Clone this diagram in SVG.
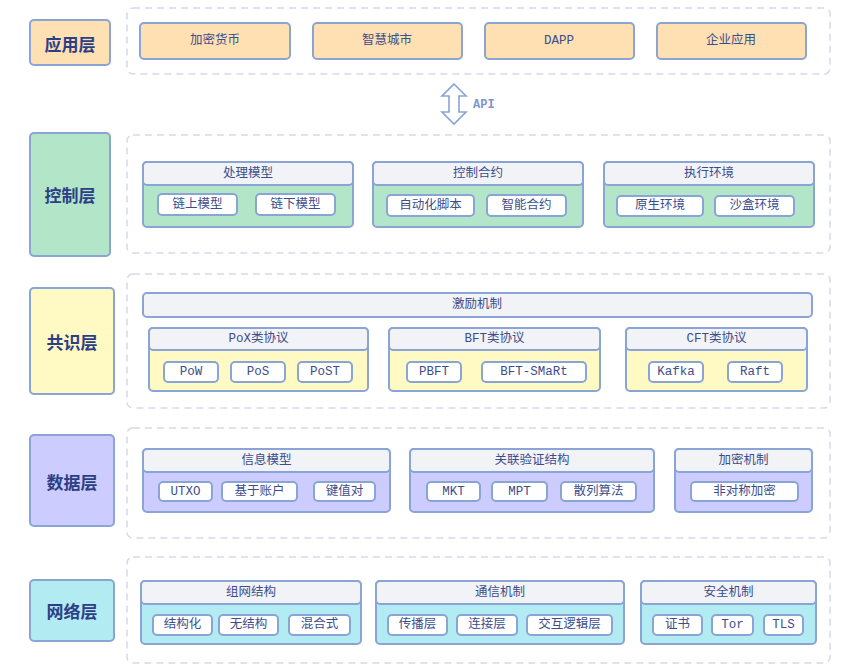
<svg xmlns="http://www.w3.org/2000/svg" width="867" height="668" viewBox="0 0 867 668">
<style>
.bg{fill:#ffffff}
.cont{fill:none;stroke:#d3daea;stroke-width:1.5;stroke-dasharray:7 5}
.lbl{stroke:#8aa4d6;stroke-width:2}
.ltxt{font-family:"Noto Sans CJK SC","Noto Sans",sans-serif;font-size:17px;font-weight:bold;fill:#2c3f86;text-anchor:middle;dominant-baseline:central}
.box{stroke:#8aa4d6;stroke-width:2}
.hdr{fill:#f2f3f7;stroke:#8aa4d6;stroke-width:2}
.item{fill:#ffffff;stroke:#8aa4d6;stroke-width:2}
.t{font-family:"Liberation Mono","Noto Sans CJK SC",monospace;font-size:12.5px;fill:#3b4d8c;text-anchor:middle;dominant-baseline:central}
.api{font-family:"Liberation Mono","Noto Sans CJK SC",monospace;font-size:12px;font-weight:bold;fill:#7d95cc;dominant-baseline:central}
.app{fill:#ffe0b2}.ctl{fill:#b3e6c8}.cns{fill:#fff9c4}.dat{fill:#ccccff}.net{fill:#b2ebf2}
</style>
<rect class="bg" x="0" y="0" width="867" height="668"/>

<!-- Application layer -->
<g id="app-layer">
<rect class="cont" x="127" y="8" width="703" height="66" rx="6"/>
<rect class="lbl app" x="30" y="20" width="80" height="45" rx="4"/>
<text class="ltxt" x="70" y="43">应用层</text>
</g>
<g id="app-crypto"><rect class="box app" x="140" y="23" width="150" height="36" rx="4"/><text class="t" x="215" y="41">加密货币</text></g>
<g id="app-city"><rect class="box app" x="313" y="23" width="149" height="36" rx="4"/><text class="t" x="387" y="41">智慧城市</text></g>
<g id="app-dapp"><rect class="box app" x="485" y="23" width="149" height="36" rx="4"/><text class="t" x="559" y="41">DAPP</text></g>
<g id="app-ent"><rect class="box app" x="657" y="23" width="149" height="36" rx="4"/><text class="t" x="731" y="41">企业应用</text></g>

<!-- Connectors -->
<g id="connectors">
<polygon points="454,84 466,96 459,96 459,112 466,112 454,124 442,112 449,112 449,96 442,96" fill="#ffffff" stroke="#8aa4d6" stroke-width="1.6" stroke-linejoin="miter"/>
<text class="api" x="473" y="105">API</text>
</g>

<!-- Control layer -->
<g id="ctl-layer">
<rect class="cont" x="127" y="135" width="703" height="118" rx="6"/>
<rect class="lbl ctl" x="30" y="133" width="80" height="123" rx="4"/>
<text class="ltxt" x="70" y="194">控制层</text>
</g>
<g id="ctl-proc">
<rect class="box ctl" x="143" y="162" width="210" height="65" rx="4"/>
<rect class="hdr" x="143" y="162" width="210" height="23" rx="4"/>
<text class="t" x="248" y="174">处理模型</text>
<rect class="item" x="158" y="194" width="79" height="21" rx="4"/><text class="t" x="197.5" y="205">链上模型</text>
<rect class="item" x="256" y="194" width="79" height="21" rx="4"/><text class="t" x="295.5" y="205">链下模型</text>
</g>
<g id="ctl-contract">
<rect class="box ctl" x="373" y="162" width="210" height="65" rx="4"/>
<rect class="hdr" x="373" y="162" width="210" height="23" rx="4"/>
<text class="t" x="478" y="174">控制合约</text>
<rect class="item" x="387" y="195" width="87" height="21" rx="4"/><text class="t" x="430.5" y="206">自动化脚本</text>
<rect class="item" x="487" y="195" width="79" height="21" rx="4"/><text class="t" x="526.5" y="206">智能合约</text>
</g>
<g id="ctl-env">
<rect class="box ctl" x="604" y="162" width="210" height="65" rx="4"/>
<rect class="hdr" x="604" y="162" width="210" height="23" rx="4"/>
<text class="t" x="709" y="174">执行环境</text>
<rect class="item" x="617" y="196" width="86" height="20" rx="4"/><text class="t" x="660" y="206">原生环境</text>
<rect class="item" x="715" y="196" width="79" height="20" rx="4"/><text class="t" x="754.5" y="206">沙盒环境</text>
</g>

<!-- Consensus layer -->
<g id="cns-layer">
<rect class="cont" x="127" y="274" width="703" height="134" rx="6"/>
<rect class="lbl cns" x="30" y="288" width="84" height="106" rx="4"/>
<text class="ltxt" x="72" y="341">共识层</text>
</g>
<g id="cns-incentive">
<rect class="hdr" x="143" y="293" width="669" height="24" rx="4"/>
<text class="t" x="477" y="305">激励机制</text>
</g>
<g id="cns-pox">
<rect class="box cns" x="149" y="328" width="219" height="63" rx="4"/>
<rect class="hdr" x="149" y="328" width="219" height="22" rx="4"/>
<text class="t" x="258.5" y="339">PoX类协议</text>
<rect class="item" x="164" y="362" width="54" height="20" rx="4"/><text class="t" x="191" y="372">PoW</text>
<rect class="item" x="231" y="362" width="54" height="20" rx="4"/><text class="t" x="258" y="372">PoS</text>
<rect class="item" x="298" y="362" width="54" height="20" rx="4"/><text class="t" x="325" y="372">PoST</text>
</g>
<g id="cns-bft">
<rect class="box cns" x="389" y="328" width="211" height="63" rx="4"/>
<rect class="hdr" x="389" y="328" width="211" height="22" rx="4"/>
<text class="t" x="494.5" y="339">BFT类协议</text>
<rect class="item" x="407" y="362" width="54" height="20" rx="4"/><text class="t" x="434" y="372">PBFT</text>
<rect class="item" x="482" y="362" width="104" height="20" rx="4"/><text class="t" x="534" y="372">BFT-SMaRt</text>
</g>
<g id="cns-cft">
<rect class="box cns" x="626" y="328" width="181" height="63" rx="4"/>
<rect class="hdr" x="626" y="328" width="181" height="22" rx="4"/>
<text class="t" x="716.5" y="339">CFT类协议</text>
<rect class="item" x="649" y="362" width="54" height="20" rx="4"/><text class="t" x="676" y="372">Kafka</text>
<rect class="item" x="728" y="362" width="54" height="20" rx="4"/><text class="t" x="755" y="372">Raft</text>
</g>

<!-- Data layer -->
<g id="dat-layer">
<rect class="cont" x="127" y="428" width="703" height="110" rx="6"/>
<rect class="lbl dat" x="30" y="435" width="84" height="91" rx="4"/>
<text class="ltxt" x="72" y="481">数据层</text>
</g>
<g id="dat-info">
<rect class="box dat" x="143" y="449" width="247" height="63" rx="4"/>
<rect class="hdr" x="143" y="449" width="247" height="23" rx="4"/>
<text class="t" x="266.5" y="461">信息模型</text>
<rect class="item" x="159" y="482" width="53" height="19" rx="4"/><text class="t" x="185.5" y="491.5">UTXO</text>
<rect class="item" x="222" y="482" width="75" height="19" rx="4"/><text class="t" x="259.5" y="491.5">基于账户</text>
<rect class="item" x="314" y="482" width="61" height="19" rx="4"/><text class="t" x="344.5" y="491.5">键值对</text>
</g>
<g id="dat-assoc">
<rect class="box dat" x="410" y="449" width="244" height="63" rx="4"/>
<rect class="hdr" x="410" y="449" width="244" height="23" rx="4"/>
<text class="t" x="532" y="461">关联验证结构</text>
<rect class="item" x="427" y="482" width="53" height="19" rx="4"/><text class="t" x="453.5" y="491.5">MKT</text>
<rect class="item" x="492" y="482" width="55" height="19" rx="4"/><text class="t" x="519.5" y="491.5">MPT</text>
<rect class="item" x="561" y="482" width="75" height="19" rx="4"/><text class="t" x="598.5" y="491.5">散列算法</text>
</g>
<g id="dat-crypto">
<rect class="box dat" x="675" y="449" width="137" height="63" rx="4"/>
<rect class="hdr" x="675" y="449" width="137" height="23" rx="4"/>
<text class="t" x="743.5" y="461">加密机制</text>
<rect class="item" x="691" y="482" width="107" height="19" rx="4"/><text class="t" x="744.5" y="491.5">非对称加密</text>
</g>

<!-- Network layer -->
<g id="net-layer">
<rect class="cont" x="127" y="557" width="703" height="106" rx="6"/>
<rect class="lbl net" x="30" y="580" width="84" height="61" rx="4"/>
<text class="ltxt" x="72" y="610">网络层</text>
</g>
<g id="net-topo">
<rect class="box net" x="141" y="581" width="220" height="63" rx="4"/>
<rect class="hdr" x="141" y="581" width="220" height="23" rx="4"/>
<text class="t" x="251" y="593">组网结构</text>
<rect class="item" x="153" y="615" width="59" height="20" rx="4"/><text class="t" x="182.5" y="625">结构化</text>
<rect class="item" x="219" y="615" width="59" height="20" rx="4"/><text class="t" x="248.5" y="625">无结构</text>
<rect class="item" x="289" y="615" width="61" height="20" rx="4"/><text class="t" x="319.5" y="625">混合式</text>
</g>
<g id="net-comm">
<rect class="box net" x="376" y="581" width="248" height="63" rx="4"/>
<rect class="hdr" x="376" y="581" width="248" height="23" rx="4"/>
<text class="t" x="500" y="593">通信机制</text>
<rect class="item" x="388" y="615" width="59" height="20" rx="4"/><text class="t" x="417.5" y="625">传播层</text>
<rect class="item" x="457" y="615" width="60" height="20" rx="4"/><text class="t" x="487" y="625">连接层</text>
<rect class="item" x="527" y="615" width="85" height="20" rx="4"/><text class="t" x="569.5" y="625">交互逻辑层</text>
</g>
<g id="net-sec">
<rect class="box net" x="641" y="581" width="175" height="63" rx="4"/>
<rect class="hdr" x="641" y="581" width="175" height="23" rx="4"/>
<text class="t" x="728.5" y="593">安全机制</text>
<rect class="item" x="653" y="615" width="49" height="20" rx="4"/><text class="t" x="677.5" y="625">证书</text>
<rect class="item" x="712" y="615" width="41" height="20" rx="4"/><text class="t" x="732.5" y="625">Tor</text>
<rect class="item" x="764" y="615" width="39" height="20" rx="4"/><text class="t" x="783.5" y="625">TLS</text>
</g>
</svg>
